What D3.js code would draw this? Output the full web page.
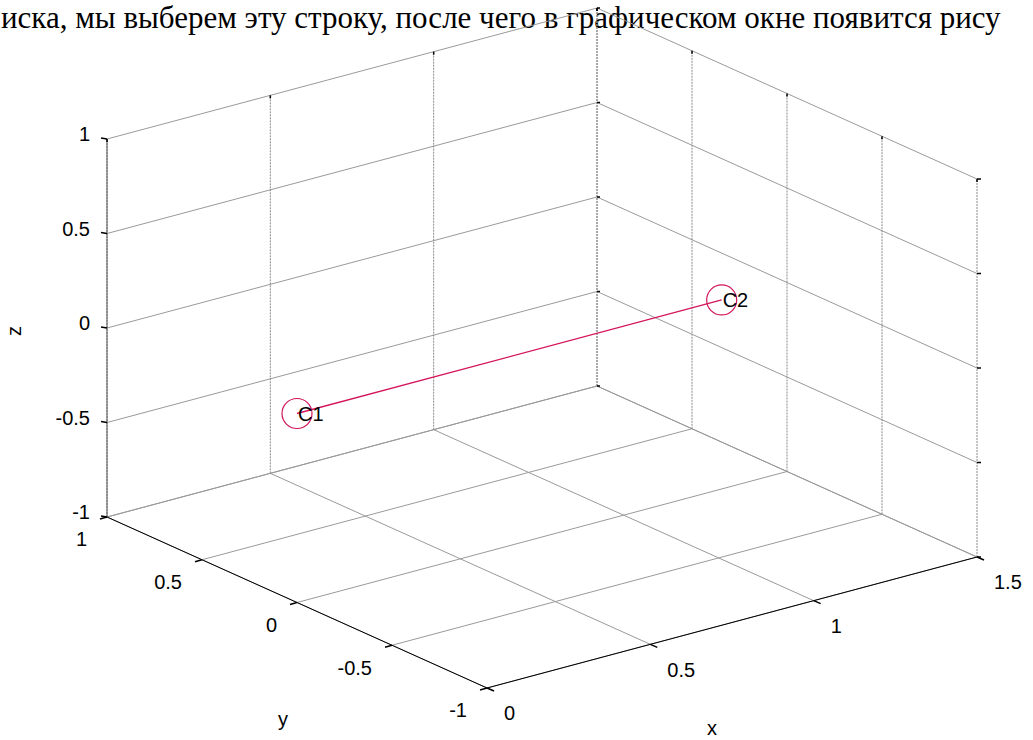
<!DOCTYPE html>
<html>
<head>
<meta charset="utf-8">
<script src="https://cdn.jsdelivr.net/npm/d3@7"></script>
<style>
  body { margin: 0; background: #fff; overflow: hidden; }
  text { font-family: "Liberation Sans", Arial, sans-serif; }
</style>
</head>
<body>
<svg id="plot3" width="1033" height="740"></svg>
<script>
// tick values of the three axes
var xTicks = [0, 0.5, 1, 1.5];
var yTicks = [-1, -0.5, 0, 0.5, 1];
var zTicks = [-1, -0.5, 0, 0.5, 1];

// atoms
var atomNames = ["C1", "C2"];
var atomX = [0, 1.3];
var atomY = [0, 0];
var atomZ = [0, 0];

var caption = "иска, мы выберем эту строку, после чего в графическом окне появится рису";

var svg = d3.select("#plot3");

// data -> fraction of box edge
var sx = d3.scaleLinear().domain([0, 1.5]).range([0, 1]);
var sy = d3.scaleLinear().domain([-1, 1]).range([0, 1]);
var sz = d3.scaleLinear().domain([-1, 1]).range([0, 1]);

// box corner (0,-1,-1) on screen and edge vectors
var base = [487, 688];
var ex = [490, -131], ey = [-380, -171], ez = [0, -378];

function proj(x, y, z) {
  var a = sx(x), b = sy(y), c = sz(z);
  return [base[0] + a * ex[0] + b * ey[0] + c * ez[0],
          base[1] + a * ex[1] + b * ey[1] + c * ez[1]];
}

function seg(g, p, q) {
  return g.append("line")
    .attr("x1", p[0]).attr("y1", p[1])
    .attr("x2", q[0]).attr("y2", q[1]);
}

// caption text from the page above the figure
svg.append("text")
  .attr("x", 1).attr("y", 28)
  .style("font-family", "'Liberation Serif', 'Times New Roman', serif")
  .style("font-size", "31px")
  .text(caption);

var grid = svg.append("g")
  .attr("stroke", "#9a9a9a")
  .attr("stroke-width", 1)
  .attr("fill", "none");
var vgrid = svg.append("g")
  .attr("stroke", "#8a8a8a")
  .attr("stroke-width", 1)
  .attr("stroke-dasharray", "2,1")
  .attr("fill", "none");

// floor z=-1
xTicks.forEach(function(x) { seg(grid, proj(x, -1, -1), proj(x, 1, -1)); });
yTicks.forEach(function(y) { seg(grid, proj(0, y, -1), proj(1.5, y, -1)); });
// back wall y=1
xTicks.forEach(function(x) { seg(vgrid, proj(x, 1, -1), proj(x, 1, 1)); });
zTicks.forEach(function(z) { seg(grid, proj(0, 1, z), proj(1.5, 1, z)); });
// back wall x=1.5
yTicks.forEach(function(y) { seg(vgrid, proj(1.5, y, -1), proj(1.5, y, 1)); });
zTicks.forEach(function(z) { seg(grid, proj(1.5, -1, z), proj(1.5, 1, z)); });

// axis lines
var axes = svg.append("g").attr("stroke", "#000").attr("stroke-width", 1);
seg(axes, proj(0, -1, -1), proj(1.5, -1, -1));
seg(axes, proj(0, -1, -1), proj(0, 1, -1));
seg(axes, proj(0, 1, -1), proj(0, 1, 1)).attr("stroke", "#555");

// tick marks
var ticks = svg.append("g").attr("stroke", "#000").attr("stroke-width", 1.5);
function tick(p, dx, dy) { seg(ticks, p, [p[0] + dx, p[1] + dy]); }
xTicks.forEach(function(x) {
  tick(proj(x, -1, -1), 7, 3);
  tick(proj(x, 1, 1), 0, 3);
});
yTicks.forEach(function(y) {
  tick(proj(0, y, -1), -7, 2);
  tick(proj(1.5, y, 1), 0, 3);
});
zTicks.forEach(function(z) {
  tick(proj(0, 1, z), -6, -1);
  tick(proj(1.5, -1, z), 4, 0);
  tick(proj(1.5, 1, z), 3, 0);
});

// tick labels
var labels = svg.append("g").style("font-size", "20px").attr("fill", "#000");
zTicks.forEach(function(z) {
  var p = proj(0, 1, z);
  labels.append("text")
    .attr("x", p[0] - 17).attr("y", p[1] - 3)
    .attr("text-anchor", "end").attr("dominant-baseline", "middle")
    .text(String(z));
});
yTicks.forEach(function(y) {
  var p = proj(0, y, -1);
  labels.append("text")
    .attr("x", p[0] - 20).attr("y", p[1] + 24)
    .attr("text-anchor", "end").attr("dominant-baseline", "middle")
    .text(String(y));
});
xTicks.forEach(function(x) {
  var p = proj(x, -1, -1);
  labels.append("text")
    .attr("x", p[0] + 17).attr("y", p[1] + 27)
    .attr("text-anchor", "start").attr("dominant-baseline", "middle")
    .text(String(x));
});

// axis titles
var px = proj(0.75, -1, -1);
labels.append("text").attr("x", px[0] - 20).attr("y", px[1] + 107)
  .attr("text-anchor", "middle").attr("dominant-baseline", "middle").text("x");
var py = proj(0, 0, -1);
labels.append("text").attr("x", py[0] - 14).attr("y", py[1] + 118)
  .attr("text-anchor", "middle").attr("dominant-baseline", "middle").text("y");
var pz = proj(0, 1, 0);
labels.append("text")
  .attr("transform", "translate(" + (pz[0] - 91) + "," + (pz[1] + 3) + ") rotate(-90)")
  .attr("text-anchor", "middle").attr("dominant-baseline", "middle").text("z");

// bond + atoms
var red = "#d4145a";
var pts = atomNames.map(function(n, i) { return proj(atomX[i], atomY[i], atomZ[i]); });
svg.append("path")
  .attr("d", d3.line()(pts))
  .attr("stroke", red).attr("stroke-width", 1.3).attr("fill", "none");

svg.selectAll("circle.atom")
  .data(pts).enter()
  .append("circle")
  .attr("class", "atom")
  .attr("cx", function(d) { return d[0]; })
  .attr("cy", function(d) { return d[1]; })
  .attr("r", 15)
  .attr("fill", "none").attr("stroke", red).attr("stroke-width", 1.2);

svg.selectAll("text.atom")
  .data(pts).enter()
  .append("text")
  .attr("class", "atom")
  .attr("x", function(d) { return d[0] + 1; })
  .attr("y", function(d) { return d[1] + 2; })
  .attr("dominant-baseline", "middle")
  .style("font-size", "20px")
  .text(function(d, i) { return atomNames[i]; });
</script>
</body>
</html>
